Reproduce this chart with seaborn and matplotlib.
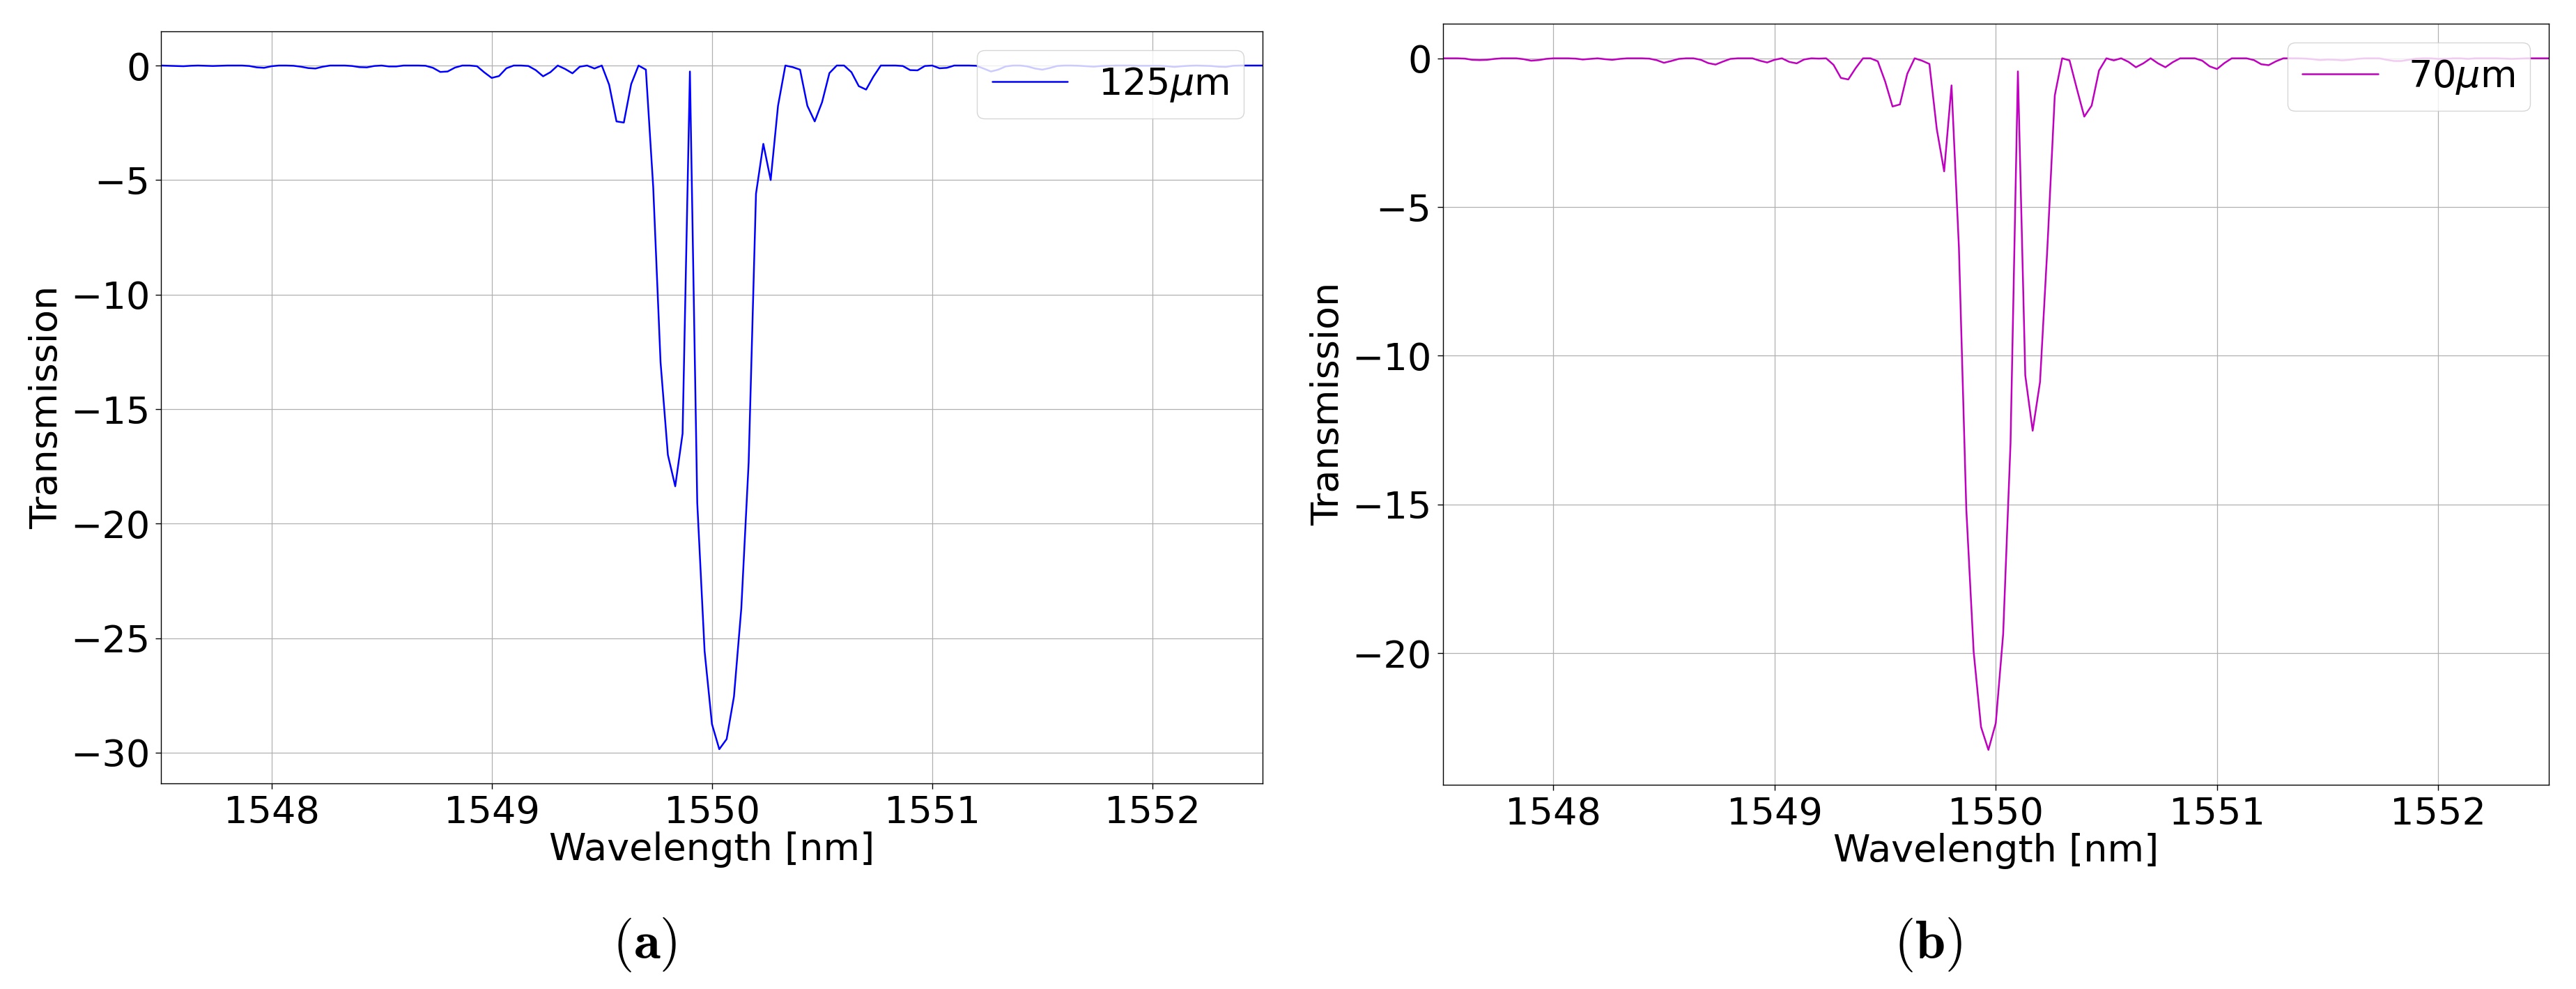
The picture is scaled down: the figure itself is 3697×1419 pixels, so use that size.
import numpy as np
import matplotlib
matplotlib.use("Agg")
import matplotlib.pyplot as plt
import seaborn as sns

# wavelength grid: 1547.5 .. 1552.5 nm, 1/30 nm step
wavelength = np.linspace(1547.5, 1552.5, 151)

# transmission [dB], fibre diameter 125 um
trans_125 = [
    0.0, -0.01, -0.02, -0.03, -0.01, 0.0, -0.01, -0.02, -0.01, 0.0,
    0.0, 0.0, -0.02, -0.08, -0.1, -0.03, 0.0, 0.0, -0.01, -0.05,
    -0.11, -0.13, -0.05, 0.0, 0.0, 0.0, -0.02, -0.07, -0.08, -0.02,
    0.0, -0.04, -0.04, 0.0, 0.0, 0.0, -0.01, -0.1, -0.28, -0.26,
    -0.09, 0.0, 0.0, -0.03, -0.3, -0.54, -0.46, -0.12, 0.0, 0.0,
    -0.02, -0.2, -0.47, -0.29, 0.0, -0.15, -0.34, -0.05, 0.0, -0.13,
    0.0, -0.84, -2.44, -2.49, -0.81, 0.0, -0.18, -5.3, -12.95, -17.0,
    -18.37, -16.07, -0.26, -19.1, -25.57, -28.75, -29.85, -29.41, -27.55, -23.7,
    -17.34, -5.6, -3.42, -5.0, -1.76, 0.0, -0.07, -0.18, -1.76, -2.44,
    -1.6, -0.33, 0.0, 0.0, -0.29, -0.9, -1.05, -0.48, 0.0, 0.0,
    0.0, -0.02, -0.2, -0.21, -0.02, 0.0, -0.12, -0.1, 0.0, 0.0,
    0.0, -0.01, -0.13, -0.26, -0.18, -0.04, 0.0, 0.0, -0.04, -0.13,
    -0.18, -0.11, -0.02, 0.0, 0.0, -0.01, -0.03, -0.05, -0.02, -0.01,
    0.0, 0.0, 0.0, -0.01, -0.01, -0.01, -0.01, -0.03, -0.06, -0.03,
    -0.01, 0.0, -0.01, -0.02, -0.05, -0.06, -0.01, 0.0, 0.0, 0.0,
    0.0,
]

# fibre diameter 70 um
trans_70 = [
    0.0, 0.0, 0.0, -0.01, -0.05, -0.06, -0.05, -0.02, 0.0, 0.0,
    0.0, -0.03, -0.08, -0.06, -0.02, 0.0, 0.0, 0.0, -0.01, -0.04,
    -0.02, 0.0, -0.03, -0.05, -0.02, 0.0, 0.0, 0.0, -0.01, -0.06,
    -0.15, -0.09, -0.02, 0.0, 0.0, -0.05, -0.16, -0.21, -0.11, -0.02,
    0.0, 0.0, 0.0, -0.08, -0.14, -0.05, 0.0, -0.12, -0.17, -0.04,
    0.0, -0.01, 0.0, -0.22, -0.66, -0.71, -0.33, 0.0, 0.0, -0.1,
    -0.78, -1.62, -1.55, -0.52, 0.0, -0.08, -0.19, -2.38, -3.8, -0.91,
    -6.35, -15.14, -19.95, -22.48, -23.25, -22.35, -19.36, -12.94, -0.44, -10.66,
    -12.52, -10.88, -6.35, -1.25, 0.0, -0.07, -1.03, -1.96, -1.59, -0.41,
    0.0, -0.07, 0.0, -0.12, -0.3, -0.17, 0.0, -0.17, -0.3, -0.13,
    0.0, 0.0, 0.0, -0.08, -0.27, -0.36, -0.16, 0.0, 0.0, 0.0,
    -0.06, -0.2, -0.23, -0.1, 0.0, 0.0, 0.0, -0.01, -0.03, -0.06,
    -0.04, -0.05, -0.07, -0.05, -0.02, 0.0, 0.0, 0.0, -0.05, -0.09,
    -0.09, -0.05, -0.01, 0.0, 0.0, -0.02, -0.02, 0.0, 0.0, -0.02,
    0.0, 0.0, 0.0, 0.0, -0.01, -0.02, -0.01, 0.0, 0.0, 0.0,
    0.0,
]

labels = [r"125$\mu$m", r"70$\mu$m"]
captions = [r"$(\mathbf{a})$", r"$(\mathbf{b})$"]

sns.set_theme(style="ticks", color_codes=False, rc={
    "axes.edgecolor": "black",
    "axes.linewidth": 1.0,
    "axes.grid": True,
    "grid.color": "#b0b0b0",
    "grid.linewidth": 0.9,
    "text.color": "black",
    "axes.labelcolor": "black",
    "xtick.color": "black",
    "ytick.color": "black",
})
plt.rcParams["font.family"] = ["DejaVu Sans"]

FS = 39
fig = plt.figure(figsize=(36.98, 14.19), dpi=100)
ax_a = fig.add_axes([0.0626, 0.2079, 0.4274, 0.7604])
ax_b = fig.add_axes([0.5599, 0.2068, 0.4293, 0.7692])

for ax, y, col, lab in [(ax_a, trans_125, "#0000ff", labels[0]),
                        (ax_b, trans_70, "#bf00bf", labels[1])]:
    sns.lineplot(x=wavelength, y=y, ax=ax, color=col, linewidth=1.8, label=lab)
    ax.set_xlim(1547.5, 1552.5)
    ax.set_xlabel("Wavelength [nm]", fontsize=FS, labelpad=1)
    ax.set_ylabel("Transmission", fontsize=FS, labelpad=6)
    ax.tick_params(labelsize=FS, length=5.5, width=1.0, pad=6, direction="out")
    ax.grid(True)
    ax.legend(loc="upper right", fontsize=FS, frameon=True)

fig.text(0.2501, 0.0451, captions[0], fontsize=56, ha="center", va="center",
         math_fontfamily="cm")
fig.text(0.7482, 0.0451, captions[1], fontsize=56, ha="center", va="center",
         math_fontfamily="cm")

fig.savefig("out.png", dpi=100)
